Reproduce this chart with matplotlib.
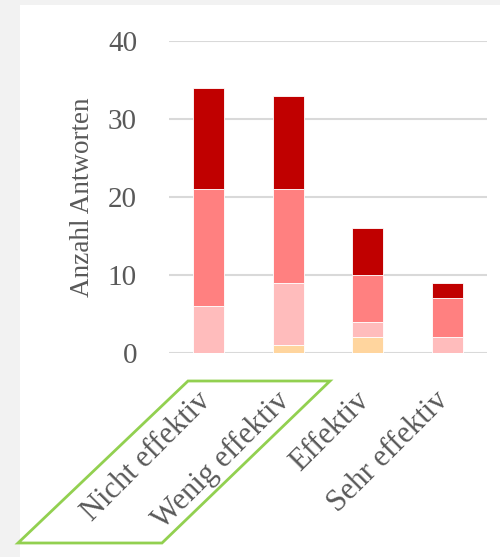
import matplotlib
matplotlib.use("Agg")
import matplotlib.pyplot as plt
from matplotlib.patches import Polygon, Rectangle
from matplotlib.transforms import ScaledTranslation
import numpy as np

categories = ["Nicht effektiv", "Wenig effektiv", "Effektiv", "Sehr effektiv"]
seg_orange = [0, 1, 2, 0]
seg_lightpink = [6, 8, 2, 2]
seg_salmon = [15, 12, 6, 5]
seg_darkred = [13, 12, 6, 2]
yticks = [0, 10, 20, 30, 40]

colors = ["#FFD59E", "#FFBCBC", "#FF8080", "#C00000"]
series = [seg_orange, seg_lightpink, seg_salmon, seg_darkred]

plt.rcParams['font.family'] = ['Liberation Serif', 'DejaVu Serif']

W, H = 500, 557
fig = plt.figure(figsize=(W / 100, H / 100), dpi=100)
fig.patch.set_facecolor("#F2F2F2")
# white chart area
fig.patches.append(Rectangle((20 / W, 0), 1 - 20 / W, 1 - 5 / H, transform=fig.transFigure,
                             facecolor="white", edgecolor="none", zorder=-5))

ax = fig.add_axes([169 / W, 1 - 353 / H, (487 - 169) / W, (353 - 41) / H])
ax.set_facecolor("none")
ax.set_zorder(1)

x = np.arange(len(categories))
bottom = np.zeros(len(categories))
for vals, c in zip(series, colors):
    ax.bar(x, vals, bottom=bottom, width=0.39, color=c, edgecolor="white", linewidth=0.6, zorder=3)
    bottom += np.array(vals)

ax.set_xlim(-0.5, 3.5)
ax.set_ylim(0, 40)
ax.set_yticks(yticks)
ax.yaxis.grid(True, color="#D9D9D9", linewidth=1.5, zorder=0)
ax.set_axisbelow(True)
for s in ax.spines.values():
    s.set_visible(False)
ax.tick_params(axis="y", length=0, pad=23, labelsize=21, labelcolor="#595959")
ax.tick_params(axis="x", length=0, pad=6)
ax.set_xticks(x)
ax.set_xticklabels(categories, rotation=45, ha="right", va="top", rotation_mode="anchor",
                   fontsize=22, color="#595959")
offset = ScaledTranslation(-0.13, -0.25, fig.dpi_scale_trans)
for lbl in ax.get_xticklabels():
    lbl.set_transform(lbl.get_transform() + offset)
ax.set_ylabel("Anzahl Antworten", fontsize=19.5, color="#595959", labelpad=9)

# green parallelogram around first two labels
pts = [(188, 381), (330, 381), (162, 543), (18, 543)]
poly = Polygon([(px / W, 1 - py / H) for px, py in pts], closed=True, transform=fig.transFigure,
               fill=False, edgecolor="#92D050", linewidth=2, zorder=5)
fig.patches.append(poly)

fig.savefig("out.png", dpi=100, facecolor=fig.get_facecolor())
